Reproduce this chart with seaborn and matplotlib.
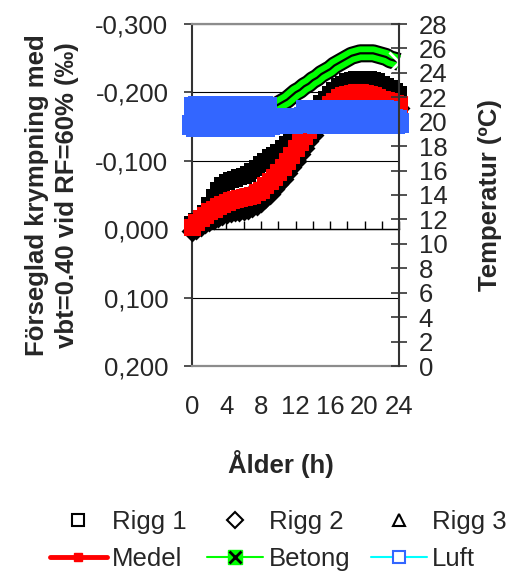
import numpy as np
import pandas as pd
import matplotlib
matplotlib.use("Agg")
import matplotlib.pyplot as plt
from matplotlib.lines import Line2D
from matplotlib.ticker import FuncFormatter, MultipleLocator
import seaborn as sns

# Ålder (h), half-hour readings for the strain gauges and the concrete
tid = [i * 0.5 for i in range(49)]
# air temperature logged every quarter hour
tid_luft = [i * 0.25 for i in range(97)]

# sealed shrinkage (per mille), negative = shrinkage
rigg1 = [-0.008, -0.012, -0.016, -0.023, -0.035, -0.047, -0.057, -0.064, -0.069, -0.072,
         -0.074, -0.076, -0.078, -0.081, -0.085, -0.090, -0.095, -0.100, -0.105, -0.109,
         -0.113, -0.118, -0.124, -0.130, -0.137, -0.144, -0.152, -0.160, -0.168, -0.176,
         -0.184, -0.191, -0.198, -0.204, -0.209, -0.213, -0.216, -0.218, -0.219, -0.220,
         -0.220, -0.219, -0.218, -0.216, -0.213, -0.210, -0.206, -0.202, -0.197]
rigg2 = [0.002, -0.001, -0.005, -0.009, -0.012, -0.015, -0.018, -0.021, -0.023, -0.025,
         -0.026, -0.027, -0.028, -0.030, -0.032, -0.036, -0.040, -0.046, -0.052, -0.059,
         -0.066, -0.074, -0.082, -0.091, -0.100, -0.110, -0.119, -0.129, -0.138, -0.148,
         -0.157, -0.165, -0.172, -0.178, -0.183, -0.186, -0.189, -0.190, -0.191, -0.191,
         -0.191, -0.190, -0.189, -0.188, -0.186, -0.184, -0.182, -0.180, -0.177]
rigg3 = [-0.004, -0.010, -0.015, -0.020, -0.025, -0.030, -0.034, -0.038, -0.041, -0.044,
         -0.046, -0.048, -0.050, -0.052, -0.055, -0.060, -0.065, -0.071, -0.078, -0.085,
         -0.093, -0.101, -0.110, -0.119, -0.128, -0.137, -0.146, -0.155, -0.163, -0.171,
         -0.178, -0.185, -0.190, -0.194, -0.197, -0.199, -0.200, -0.201, -0.201, -0.200,
         -0.199, -0.198, -0.196, -0.194, -0.191, -0.189, -0.187, -0.184, -0.182]
medel = [-0.003, -0.010, -0.016, -0.021, -0.026, -0.030, -0.034, -0.037, -0.040, -0.042,
         -0.044, -0.046, -0.047, -0.048, -0.050, -0.054, -0.058, -0.064, -0.070, -0.076,
         -0.083, -0.091, -0.100, -0.109, -0.118, -0.127, -0.136, -0.145, -0.153, -0.162,
         -0.170, -0.177, -0.183, -0.188, -0.193, -0.196, -0.198, -0.199, -0.200, -0.200,
         -0.199, -0.198, -0.196, -0.194, -0.191, -0.189, -0.187, -0.185, -0.183]

# temperatures (C)
betong = [19.5, 19.6, 19.6, 19.7, 19.8, 19.8, 19.9, 20.0, 20.1, 20.2,
          20.2, 20.3, 20.4, 20.5, 20.6, 20.7, 20.8, 20.9, 21.0, 21.2,
          21.4, 21.6, 21.8, 22.1, 22.4, 22.6, 22.9, 23.1, 23.4, 23.6,
          23.9, 24.1, 24.3, 24.6, 24.8, 25.0, 25.2, 25.4, 25.5, 25.6,
          25.6, 25.6, 25.6, 25.5, 25.4, 25.3, 25.1, 25.0, 24.9]
luft = [19.7, 21.2, 19.6, 21.3, 19.7, 21.1, 19.6, 21.3, 19.7, 21.2,
        19.6, 21.2, 19.7, 21.3, 19.6, 21.1, 19.7, 21.3, 19.6, 21.2,
        19.7, 21.3, 19.6, 21.2, 19.7, 21.3, 19.6, 21.2, 19.7, 21.3,
        19.6, 21.2, 19.7, 21.3, 19.6, 21.2, 19.7,
        19.9, 20.2, 19.9, 20.3, 19.8, 20.2, 19.9, 20.3, 19.9, 20.2,
        19.8, 20.3, 19.9, 20.2, 19.9, 20.4,
        21.0, 19.9, 21.0, 19.9, 21.0, 19.8, 21.0, 19.9, 20.5, 19.9,
        21.0, 19.8, 21.0, 19.9, 21.0, 19.9, 21.0, 19.8, 20.5, 19.9,
        21.0, 19.9, 21.0, 19.8, 21.0, 19.9, 21.0, 19.9, 20.5, 19.8,
        21.0, 19.9, 21.0, 19.9, 21.0, 19.8, 21.0, 19.9, 20.9, 19.9,
        20.2, 19.8, 20.1, 19.9]

df = pd.DataFrame({"tid": tid, "Rigg 1": rigg1, "Rigg 2": rigg2, "Rigg 3": rigg3,
                   "Medel": medel, "Betong": betong})
df_luft = pd.DataFrame({"tid": tid_luft, "Luft": luft})

sns.set_style("white")
plt.rcParams["font.family"] = ["Liberation Sans", "DejaVu Sans"]
plt.rcParams["path.simplify"] = False
fs = 18.5

fig = plt.figure(figsize=(5.09, 5.72), dpi=100)
ax = fig.add_axes([192 / 509, 1 - 366 / 572, 207 / 509, 342 / 572])

# strain gauges (dense black markers make a band)
sns.scatterplot(data=df, x="tid", y="Rigg 1", ax=ax, marker="s", s=125, color="black",
                linewidth=0, clip_on=False, zorder=3)
sns.scatterplot(data=df, x="tid", y="Rigg 2", ax=ax, marker="D", s=125, color="black",
                linewidth=0, clip_on=False, zorder=3)
sns.scatterplot(data=df, x="tid", y="Rigg 3", ax=ax, marker="^", s=150, color="black",
                linewidth=0, clip_on=False, zorder=3)
sns.lineplot(data=df, x="tid", y="Medel", ax=ax, color="red", lw=5, marker="s",
             markersize=11, markeredgecolor="red", clip_on=False, zorder=4,
             estimator=None, sort=False)

ax.set_xlim(0, 24)
ax.set_ylim(0.2, -0.3)
ax.yaxis.set_major_locator(MultipleLocator(0.1))
ax.yaxis.set_major_formatter(FuncFormatter(lambda v, p: f"{v + 0.0:.3f}".replace(".", ",")))
ax.set_xticks(range(0, 25, 4))
ax.tick_params(axis="x", length=0, pad=21, labelsize=fs)
ax.tick_params(axis="y", direction="out", length=6, width=1.2, pad=11, labelsize=fs,
               color="#333333", left=True)
ax.grid(axis="y", color="black", lw=0.8)
ax.grid(axis="x", visible=False)
ax.set_xlabel("Ålder (h)", fontsize=fs, fontweight="bold")
ax.xaxis.set_label_coords(0.43, -0.245)
ax.set_ylabel("Förseglad krympning med\nvbt=0.40 vid RF=60% (‰)", fontsize=fs,
              fontweight="bold", linespacing=1.3, labelpad=12)
for side in ["top", "bottom"]:
    ax.spines[side].set_color("#8c8c8c")
    ax.spines[side].set_linewidth(1.6)
ax.spines["left"].set_color("#333333")
ax.spines["left"].set_linewidth(1.5)
ax.spines["right"].set_visible(False)

# category axis crossing at 0 with minor ticks every 2 h
sec = ax.secondary_xaxis(0.4)
sec.set_xticks(range(0, 25, 2))
sec.tick_params(direction="in", length=6, width=1, color="black", labelbottom=False)
sec.spines["bottom"].set_color("black")
sec.spines["bottom"].set_linewidth(1)

# temperature axis
ax2 = ax.twinx()
sns.lineplot(data=df, x="tid", y="Betong", ax=ax2, color="black", lw=13,
             solid_capstyle="butt", clip_on=False, estimator=None, sort=False)
sns.lineplot(data=df, x="tid", y="Betong", ax=ax2, color="#00ff00", lw=10,
             solid_capstyle="butt", clip_on=False, estimator=None, sort=False)
sns.lineplot(data=df, x="tid", y="Betong", ax=ax2, color="black", lw=1.6,
             marker="x", markersize=14, markeredgewidth=2, markevery=[48],
             clip_on=False, estimator=None, sort=False)
sns.lineplot(data=df_luft, x="tid", y="Luft", ax=ax2, color="#3366ff", lw=3,
             marker="s", markersize=14.5, markeredgewidth=0, mfc="#3366ff",
             clip_on=False, estimator=None, sort=False)
ax2.set_ylim(0, 28)
ax2.yaxis.set_major_locator(MultipleLocator(2))
ax2.tick_params(axis="y", direction="inout", length=11.5, width=1.2, pad=8.5,
                labelsize=fs, color="#333333", right=True)
ax2.set_ylabel("Temperatur (ºC)", fontsize=fs, fontweight="bold", labelpad=22)
for side in ["top", "bottom", "left"]:
    ax2.spines[side].set_visible(False)
ax2.spines["right"].set_color("#333333")
ax2.spines["right"].set_linewidth(1.5)
ax2.grid(False)

# legend
h_r1 = Line2D([], [], ls="none", marker="s", ms=9, mfc="white", mec="black", mew=1.5)
h_r2 = Line2D([], [], ls="none", marker="D", ms=8, mfc="white", mec="black", mew=1.5)
h_r3 = Line2D([], [], ls="none", marker="^", ms=9, mfc="white", mec="black", mew=1.5)
h_med = Line2D([], [], color="red", lw=3.5, marker="s", ms=6, mfc="red", mec="red")
h_bet = (Line2D([], [], color="#00ff00", lw=1.5, marker="s", ms=10, mfc="#00ff00", mec="#00ff00"),
         Line2D([], [], ls="none", marker="x", ms=9, mec="black", mew=2))
h_luft = Line2D([], [], color="#00ffff", lw=1.5, marker="s", ms=9, mfc="white",
                mec="#3366ff", mew=1.5)
fig.legend([h_r1, h_med, h_r2, h_bet, h_r3, h_luft],
           ["Rigg 1", "Medel", "Rigg 2", "Betong", "Rigg 3", "Luft"],
           loc="upper left", bbox_to_anchor=(50 / 509, 1 - 510 / 572), ncol=3,
           frameon=False, fontsize=fs, handlelength=2.2, handletextpad=0.2,
           columnspacing=0.8, labelspacing=0.5, borderpad=0, borderaxespad=0)

fig.savefig("out.png", dpi=100)
